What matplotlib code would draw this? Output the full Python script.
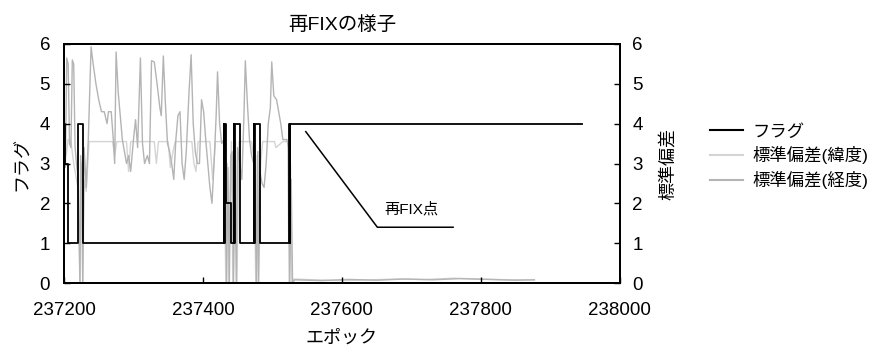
import matplotlib.pyplot as plt
from matplotlib.lines import Line2D

plt.rcParams['font.family'] = ['Liberation Sans', 'Noto Sans CJK JP']

# フラグ (step values, epoch -> flag)
flag_epoch = [237200, 237201, 237202, 237205, 237206, 237220, 237228,
              237430, 237431, 237432, 237433, 237441, 237444, 237445, 237446, 237454,
              237473, 237474, 237475, 237482,
              237524, 237525, 237526, 237945]
flag_val = [4, 3, 3, 3, 1, 4, 1,
            4, 1, 4, 2, 1, 4, 1, 4, 1,
            4, 1, 4, 1,
            4, 1, 4, 4]

# 標準偏差(緯度)
lat_epoch = [237200, 237203, 237206, 237210, 237214, 237218, 237221, 237223, 237225, 237227,
             237229, 237232, 237236, 237270, 237273, 237276, 237290, 237293, 237296, 237330,
             237333, 237336, 237350, 237353, 237357, 237360, 237384, 237387, 237390, 237393,
             237410, 237414, 237418, 237430, 237433, 237435, 237437, 237441, 237443, 237447,
             237449, 237452, 237470, 237474, 237476, 237478, 237480, 237483, 237486, 237503,
             237505, 237515, 237522, 237524, 237526, 237528,
             237531, 237560, 237600, 237640, 237680, 237720, 237760, 237800, 237840, 237877]
lat_val = [3.55, 3.2, 3.6, 3.55, 3.0, 2.6, 2.3, 0.0, 3.0, 0.0,
           2.6, 2.3, 3.55, 3.55, 3.2, 3.55, 3.55, 2.8, 3.55, 3.55,
           3.0, 3.55, 3.55, 2.9, 3.3, 3.55, 3.55, 3.0, 2.8, 3.55,
           3.55, 2.6, 3.55, 3.55, 0.0, 3.0, 0.0, 3.55, 0.0, 3.55,
           0.0, 3.55, 3.55, 3.0, 0.0, 3.2, 0.0, 3.0, 3.55, 3.55,
           3.4, 3.55, 3.55, 0.0, 3.0, 0.0,
           0.10, 0.08, 0.06, 0.08, 0.10, 0.09, 0.12, 0.10, 0.08, 0.08]

# 標準偏差(経度)
lon_epoch = [237200, 237202, 237204, 237206, 237208, 237210, 237212, 237214, 237216, 237218,
             237220, 237223, 237224, 237226, 237227, 237229, 237232, 237235, 237239, 237242,
             237246, 237250, 237254, 237258, 237262, 237264, 237268, 237271, 237273, 237275,
             237278, 237281, 237284, 237287, 237290, 237293, 237296, 237300, 237303, 237306,
             237310, 237313, 237316, 237320, 237323, 237326, 237330, 237334, 237338, 237340,
             237343, 237346, 237349, 237352, 237355, 237358, 237361, 237364, 237367, 237370,
             237373, 237376, 237380, 237383, 237386, 237389, 237392, 237395, 237398, 237401,
             237404, 237407, 237410, 237413, 237416, 237419, 237421, 237424, 237427, 237430,
             237432, 237434, 237436, 237438, 237440, 237442, 237444, 237446, 237448, 237450,
             237453, 237456, 237459, 237461, 237464, 237467, 237470, 237473, 237475, 237477,
             237479, 237480, 237482, 237485, 237488, 237491, 237494, 237497, 237499, 237502,
             237506, 237509, 237512, 237515, 237518, 237521, 237524, 237525, 237527, 237529,
             237532, 237570, 237610, 237650, 237690, 237730, 237770, 237810, 237850, 237877]
lon_val = [3.3, 2.9, 5.65, 5.5, 3.5, 3.4, 5.6, 5.5, 3.4, 3.0,
           2.7, 0.0, 3.2, 2.5, 0.0, 3.4, 2.4, 3.6, 5.93, 5.5,
           5.0, 4.6, 4.3, 4.3, 4.0, 4.3, 4.3, 3.6, 3.0, 5.8,
           4.8, 4.2, 3.6, 3.3, 3.0, 3.2, 2.8, 3.6, 4.1, 3.4,
           5.65, 3.5, 3.0, 3.2, 3.0, 5.58, 5.55, 5.0, 4.4, 4.2,
           5.7, 4.5, 3.5, 3.3, 3.0, 2.6, 3.6, 4.2, 4.3, 3.0,
           2.6, 3.3, 4.8, 5.73, 4.0, 3.3, 3.0, 3.0, 4.6, 4.3,
           3.6, 3.0, 2.4, 2.0, 3.0, 4.2, 5.3, 4.0, 3.5, 3.6,
           3.0, 0.0, 2.9, 0.0, 3.2, 3.3, 0.0, 2.8, 0.0, 3.4,
           3.0, 2.6, 4.2, 5.58, 4.5, 3.6, 3.2, 3.0, 2.5, 0.0,
           3.3, 0.0, 2.8, 2.5, 2.4, 3.0, 4.0, 4.4, 5.55, 4.7,
           4.6, 4.3, 4.0, 3.6, 3.6, 3.6, 3.3, 0.0, 2.6, 0.0,
           0.08, 0.06, 0.09, 0.07, 0.10, 0.08, 0.11, 0.09, 0.07, 0.08]

x_ticks = [237200, 237400, 237600, 237800, 238000]

# 再FIX点の引き出し線
refix_point = (237548, 3.8)
leader_knee = (237651, 1.4)
leader_end = 237760
refix_label_pos = (237700, 1.86)

fig = plt.figure(figsize=(8.74, 3.52), dpi=100)
ax = fig.add_axes([0.0732, 0.196, 0.636, 0.679])
ax2 = ax.twinx()

ax2.plot(lat_epoch, lat_val, color='#d4d4d4', lw=1.0)
ax2.plot(lon_epoch, lon_val, color='#b4b4b4', lw=1.0)
ax.step(flag_epoch, flag_val, where='post', color='black', lw=1.3)

# フラグを前面に
ax.set_zorder(ax2.get_zorder() + 1)
ax.patch.set_visible(False)

ax.set_xlim(237200, 238000)
ax.set_ylim(0, 6)
ax2.set_ylim(0, 6)
ax.set_xticks(x_ticks)
ax.set_yticks(range(7))
ax2.set_yticks(range(7))

for a in (ax, ax2):
    a.tick_params(direction='in', length=4, width=1, labelsize=13.5)
    for s in a.spines.values():
        s.set_linewidth(1.4)
ax.tick_params(axis='x', pad=14)
ax.tick_params(axis='y', pad=10)
ax2.tick_params(axis='y', pad=9)

ax.set_title('再FIXの様子', fontsize=14, pad=10)
ax.set_xlabel('エポック', fontsize=13, labelpad=7)
ax.set_ylabel('フラグ', fontsize=13, labelpad=6)
ax2.set_ylabel('標準偏差', fontsize=13, labelpad=12)

ax.plot([refix_point[0], leader_knee[0], leader_end],
        [refix_point[1], leader_knee[1], leader_knee[1]], color='black', lw=1.1)
ax.text(refix_label_pos[0], refix_label_pos[1], '再FIX点', fontsize=11,
        ha='center', va='center')

handles = [Line2D([], [], color='black', lw=1.5),
           Line2D([], [], color='#d4d4d4', lw=1.5),
           Line2D([], [], color='#b4b4b4', lw=1.5)]
labels = ['フラグ', '標準偏差(緯度)', '標準偏差(経度)']
fig.legend(handles, labels, loc='center left', bbox_to_anchor=(0.795, 0.555),
           frameon=False, fontsize=12.5, handlelength=1.9, handletextpad=0.5,
           labelspacing=0.4)

fig.savefig('out.png', dpi=100)
